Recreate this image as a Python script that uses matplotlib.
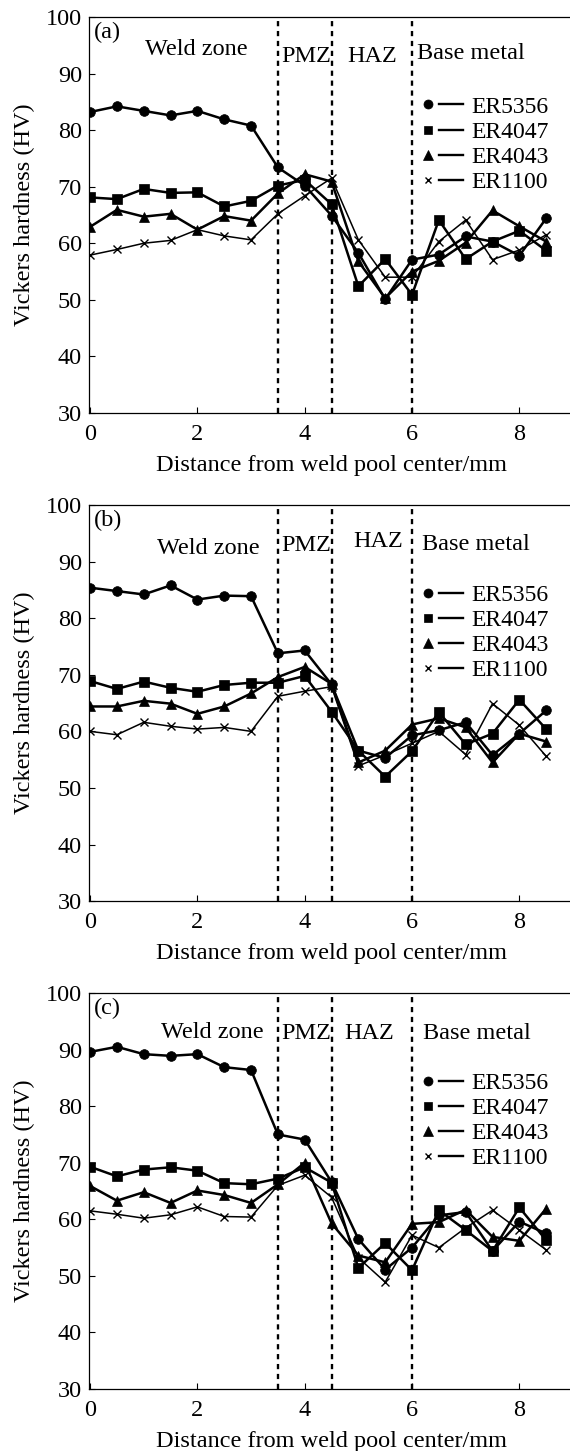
import matplotlib.pyplot as plt
from matplotlib.lines import Line2D
from matplotlib.legend_handler import HandlerTuple

plt.rcParams['font.family'] = ['Liberation Serif', 'DejaVu Serif']

# distance from weld pool center (mm)
distance = [0, 0.5, 1, 1.5, 2, 2.5, 3, 3.5, 4, 4.5, 5, 5.5, 6, 6.5, 7, 7.5, 8, 8.5]

fillers = ['ER5356', 'ER4047', 'ER4043', 'ER1100']

# panel (a)
a_er5356 = [83.2, 84.2, 83.4, 82.6, 83.4, 81.9, 80.8, 73.4, 70.2, 64.9, 58.3, 50.1, 57.1, 58.0, 61.2, 60.3, 57.8, 64.4]
a_er4047 = [68.1, 67.8, 69.6, 68.9, 69.0, 66.5, 67.5, 70.2, 71.2, 66.9, 52.4, 57.2, 50.9, 64.1, 57.2, 60.3, 62.2, 58.7]
a_er4043 = [62.9, 65.9, 64.7, 65.2, 62.4, 64.8, 64.0, 68.8, 72.2, 70.9, 56.8, 50.3, 55.0, 56.9, 60.1, 65.8, 63.0, 60.3]
a_er1100 = [57.9, 58.9, 60.0, 60.5, 62.4, 61.3, 60.6, 65.2, 68.4, 71.5, 60.6, 54.0, 54.0, 60.3, 64.1, 57.1, 58.8, 61.5]

# panel (b)
b_er5356 = [85.4, 84.8, 84.2, 85.8, 83.3, 84.0, 83.9, 73.8, 74.3, 68.3, 56.6, 55.3, 59.3, 60.2, 61.6, 55.8, 59.6, 63.7]
b_er4047 = [68.9, 67.5, 68.8, 67.7, 67.0, 68.2, 68.6, 68.6, 69.8, 63.5, 56.6, 52.0, 56.5, 63.4, 57.7, 59.6, 65.6, 60.4]
b_er4043 = [64.4, 64.4, 65.4, 64.9, 63.1, 64.4, 66.7, 69.6, 71.4, 68.4, 54.5, 56.6, 61.2, 62.3, 60.7, 54.5, 59.6, 58.2]
b_er1100 = [60.0, 59.4, 61.6, 60.9, 60.4, 60.7, 60.0, 66.2, 67.1, 67.9, 53.9, 55.8, 57.9, 60.0, 55.9, 64.9, 61.1, 55.6]

# panel (c)
c_er5356 = [89.6, 90.5, 89.2, 88.9, 89.2, 86.9, 86.4, 75.0, 74.1, 66.6, 56.5, 51.1, 55.0, 60.7, 61.3, 54.4, 59.6, 57.5]
c_er4047 = [69.3, 67.6, 68.8, 69.2, 68.6, 66.4, 66.2, 67.2, 69.2, 66.5, 51.4, 55.8, 51.0, 61.6, 58.1, 54.4, 62.1, 56.3]
c_er4043 = [65.9, 63.3, 64.8, 62.9, 65.1, 64.3, 62.9, 66.2, 70.0, 59.3, 53.6, 52.4, 59.2, 59.5, 61.7, 56.9, 56.2, 61.9]
c_er1100 = [61.5, 60.9, 60.2, 60.8, 62.2, 60.5, 60.4, 66.0, 67.8, 63.9, 53.2, 48.9, 57.2, 55.0, 58.5, 61.6, 58.1, 54.6]

zone_bounds = [3.5, 4.5, 6]
zone_names = ['Weld zone', 'PMZ', 'HAZ', 'Base metal']

markers = ['o', 's', '^', 'x']
msizes = [7, 6.5, 7, 5.5]
widths = [1.8, 1.8, 1.8, 1.1]

panels = [
    ('(a)', [a_er5356, a_er4047, a_er4043, a_er1100], 0.7154,
     [(1.98, 94.3), (4.03, 93.1), (5.26, 93.1), (7.1, 93.6)]),
    ('(b)', [b_er5356, b_er4047, b_er4043, b_er1100], 0.3790,
     [(2.2, 92.4), (4.03, 92.9), (5.37, 93.6), (7.19, 93.1)]),
    ('(c)', [c_er5356, c_er4047, c_er4043, c_er1100], 0.0427,
     [(2.27, 93.1), (4.03, 92.8), (5.2, 92.9), (7.2, 92.9)]),
]

fig = plt.figure(figsize=(5.7, 14.51), dpi=100)

for tag, series, bottom, zone_xy in panels:
    ax = fig.add_axes([89 / 570, bottom, 484 / 570, 0.2729])
    handles = []
    for vals, m, ms, lw in zip(series, markers, msizes, widths):
        ax.plot(distance, vals, color='black', lw=lw, marker=m, ms=ms,
                mew=1.0 if m == 'x' else 0.5, mfc='black', mec='black')
        h_m = Line2D([], [], color='black', ls='none', marker=m, ms=ms - 0.5,
                     mew=1.0 if m == 'x' else 0.5)
        h_l = Line2D([], [], color='black', lw=1.7)
        handles.append((h_m, h_l))

    for xb in zone_bounds:
        ax.axvline(xb, color='black', lw=1.7, ls=(0, (2.2, 2.0)))

    for name, (tx, ty) in zip(zone_names, zone_xy):
        ax.text(tx, ty, name, ha='center', va='center', fontsize=17.5)
    ax.text(0.07, 97.2, tag, ha='left', va='center', fontsize=17.5)

    ax.legend(handles, fillers, handler_map={tuple: HandlerTuple(ndivide=None, pad=0.0)},
              loc='upper left', bbox_to_anchor=(0.675, 0.80), frameon=False,
              fontsize=17, handlelength=2.0, handletextpad=0.35, labelspacing=0.15,
              borderpad=0.0, borderaxespad=0.0)

    ax.set_xlim(-0.02, 9.0)
    ax.set_ylim(30, 100)
    ax.set_xticks([0, 2, 4, 6, 8])
    ax.set_yticks([30, 40, 50, 60, 70, 80, 90, 100])
    ax.tick_params(axis='x', direction='in', length=4, width=0.8, labelsize=17.5, pad=8)
    ax.tick_params(axis='y', direction='in', length=4, width=0.8, labelsize=17.5, pad=5)
    ax.spines['right'].set_visible(False)
    for s in ['left', 'bottom', 'top']:
        ax.spines[s].set_linewidth(0.9)
    ax.set_xlabel('Distance from weld pool center/mm', fontsize=17.5, labelpad=7)
    ax.set_ylabel('Vickers hardness (HV)', fontsize=17.5, labelpad=8)

fig.savefig('out.png', dpi=100)
